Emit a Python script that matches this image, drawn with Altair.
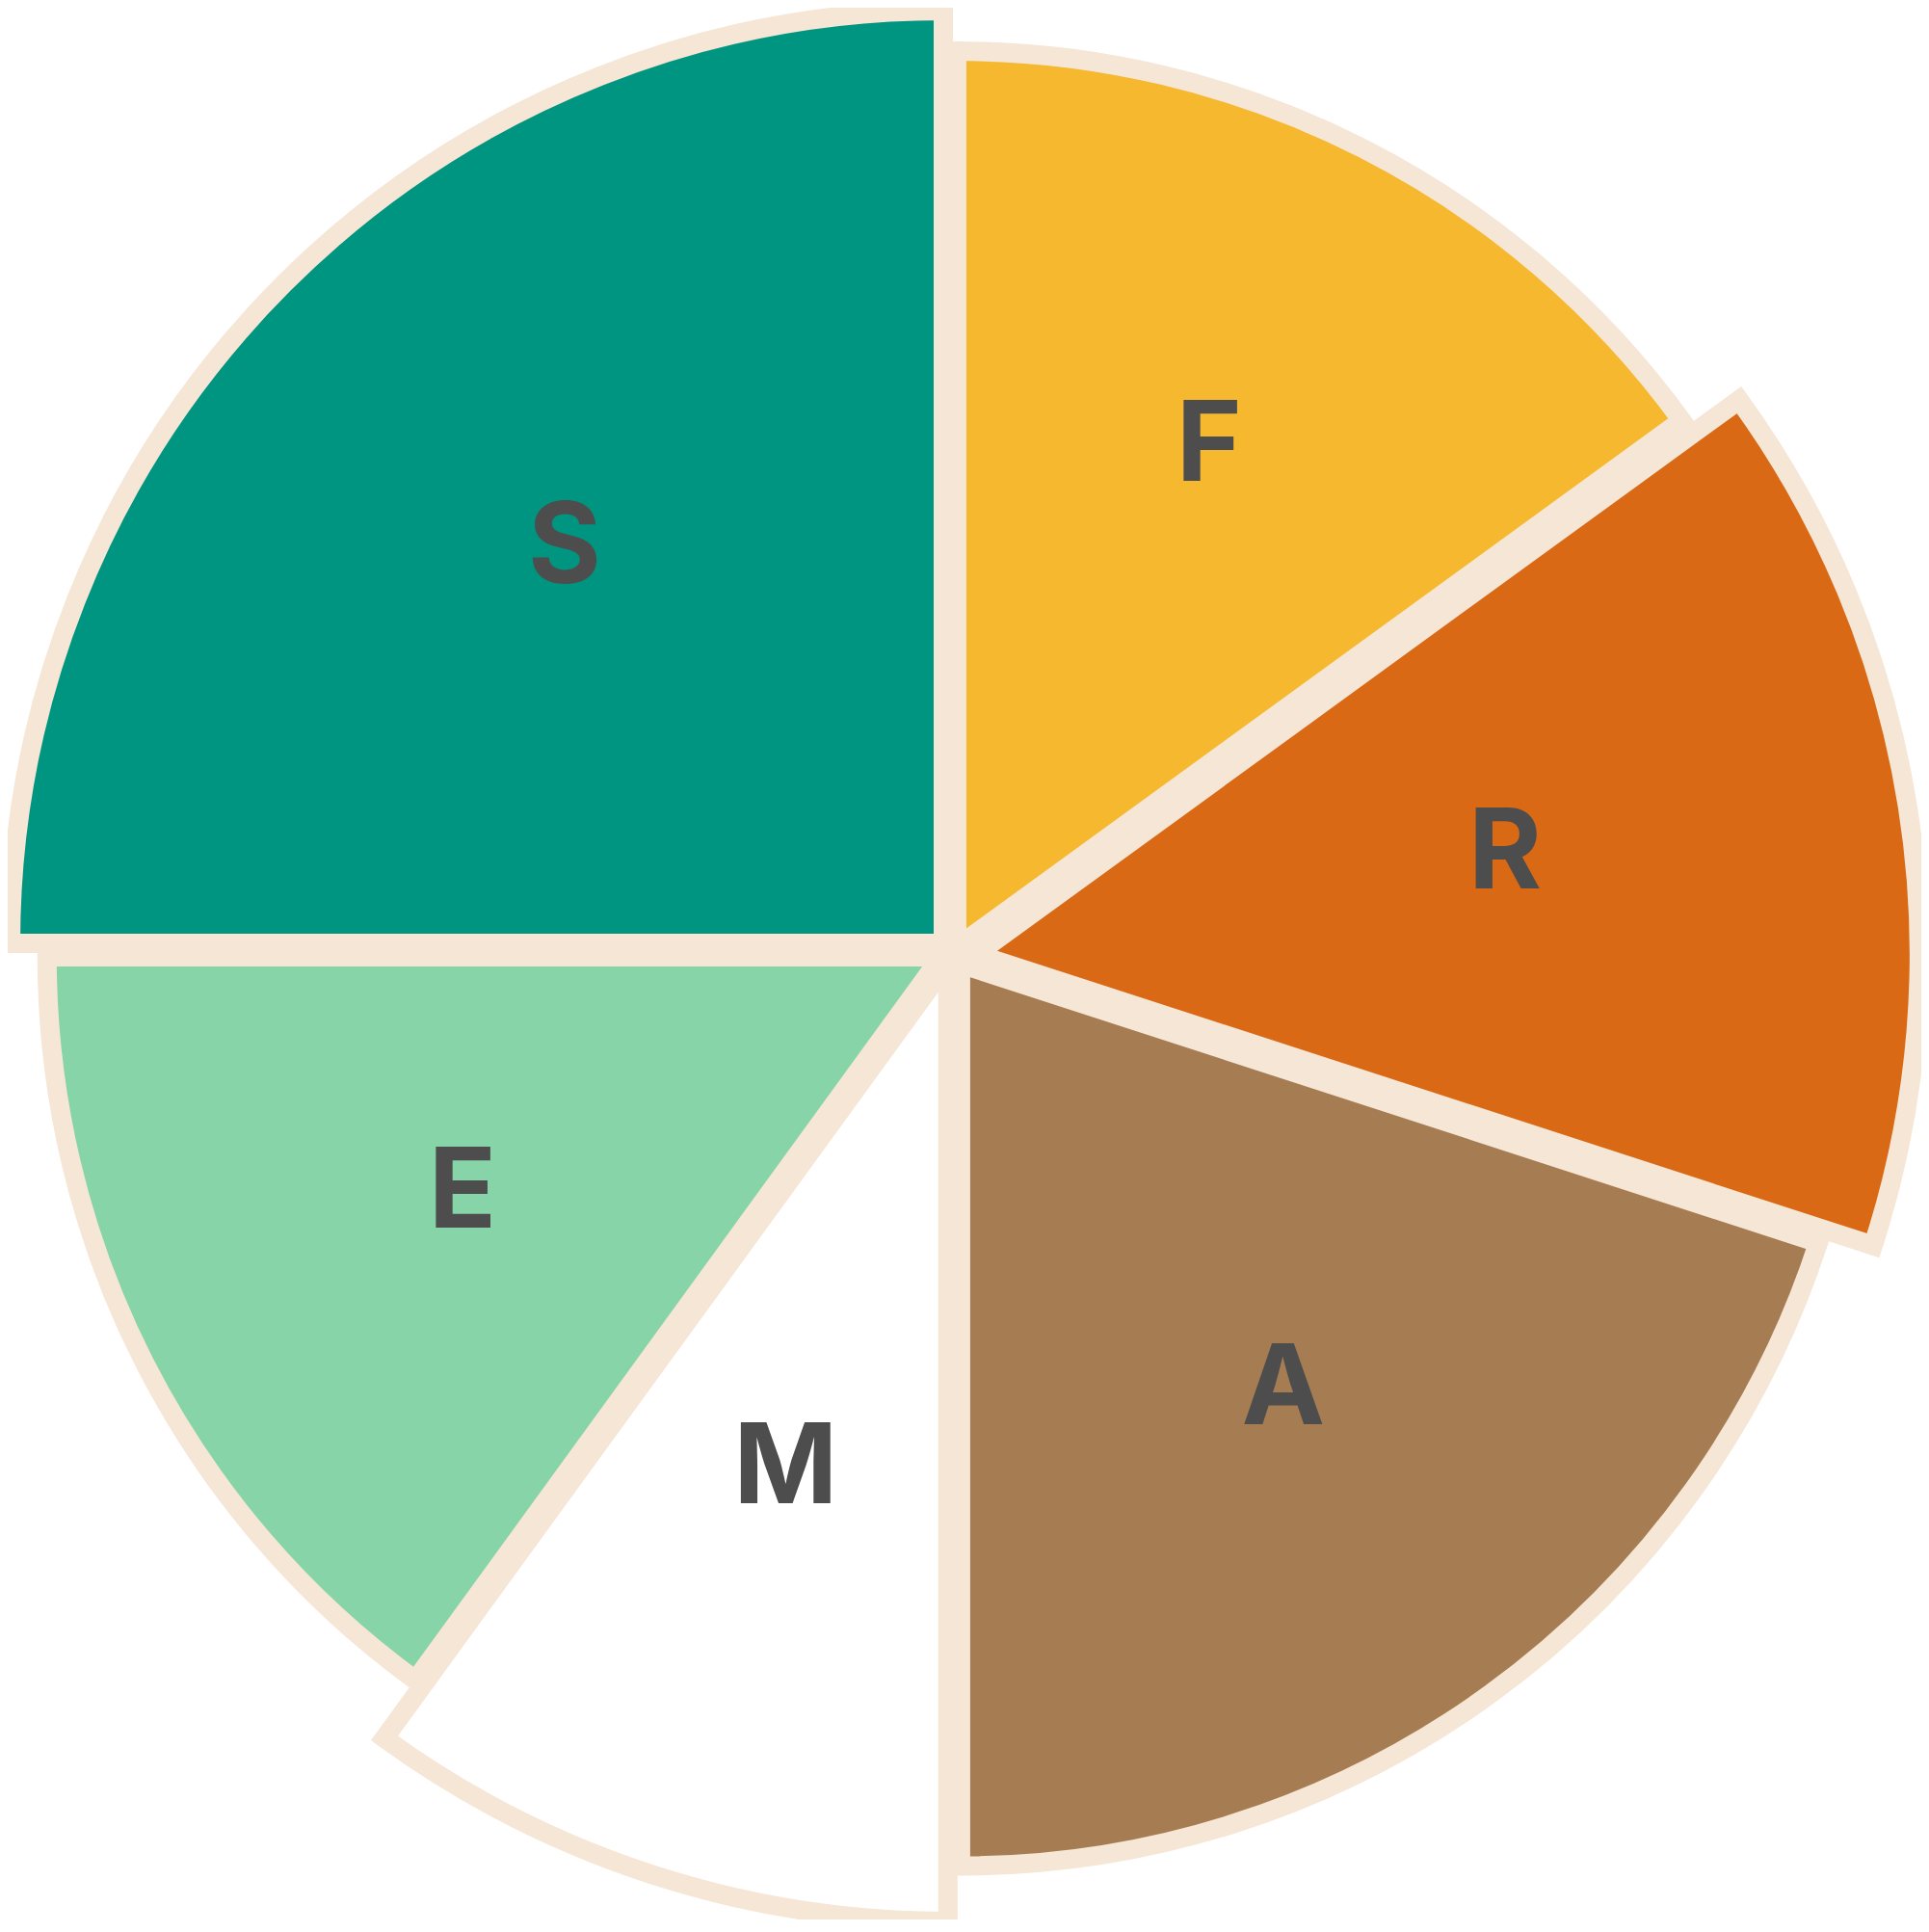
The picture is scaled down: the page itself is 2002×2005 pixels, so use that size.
import math
import altair as alt
import pandas as pd

# Data
categories = ["F", "R", "A", "M", "E", "S"]
shares = [15, 15, 20, 10, 15, 25]
scores = [93.0, 97.85, 93.6, 99.5, 92.8, 96.8]
colors = ["#f5b82e", "#d96915", "#a67c52", "#ffffff", "#86d4a8", "#009580"]

# Style
CREAM = "#f6e6d6"
TEXT = "#4d4d4d"
CX, CY = 979.5, 979.5
EXPLODE = [7, 26, 16, 12, 12, 12]         # px each slice is pulled out
EXPLODE_TWEAK = [24, 15, 0, 0, 0, 0]      # deg added to the pull direction
LABEL_R = 576
LABEL_DX, LABEL_DY = 5.8, -10
W, H = 1986, 1984

total = sum(shares)
cum = 0
cx, cy = [], []
for s, d, t in zip(shares, EXPLODE, EXPLODE_TWEAK):
    mid = (cum + s / 2) / total * 2 * math.pi + math.radians(t)
    cx.append(CX + d * math.sin(mid))
    cy.append(CY - d * math.cos(mid))
    cum += s

df = pd.DataFrame({
    "cat": categories,
    "share": shares,
    "score": scores,
    "order": list(range(len(categories))),
    "cx": cx,
    "cy": cy,
})

theta_scale = alt.Scale(domain=[0, total], range=[0, 2 * math.pi])

base = alt.Chart(df).transform_window(
    cum="sum(share)", sort=[alt.SortField("order")], frame=[None, 0]
).transform_calculate(
    start="datum.cum - datum.share",
    mid="datum.cum - datum.share / 2",
)

arcs = base.mark_arc(stroke=CREAM, strokeWidth=20).encode(
    x=alt.X("cx:Q", scale=None),
    y=alt.Y("cy:Q", scale=None),
    theta=alt.Theta("start:Q", scale=theta_scale, stack=None),
    theta2="cum:Q",
    radius=alt.Radius("score:Q", scale=alt.Scale(type="linear", domain=[0, 110], range=[0, 1100])),
    color=alt.Color("cat:N", scale=alt.Scale(domain=categories, range=colors), legend=None),
)

labels = base.mark_text(
    font="Inter", fontSize=116, fontWeight="bold", color=TEXT,
    align="center", baseline="middle",
).encode(
    x=alt.value(CX + LABEL_DX),
    y=alt.value(CY + LABEL_DY),
    theta=alt.Theta("mid:Q", scale=theta_scale, stack=None),
    radius=alt.value(LABEL_R),
    text="cat:N",
)

chart = alt.layer(arcs, labels).properties(
    width=W, height=H,
    autosize=alt.AutoSizeParams(type="none"),
    padding=0,
).configure_view(stroke=None)

chart.save("out.html", embed_options={"renderer": "svg", "actions": False})
